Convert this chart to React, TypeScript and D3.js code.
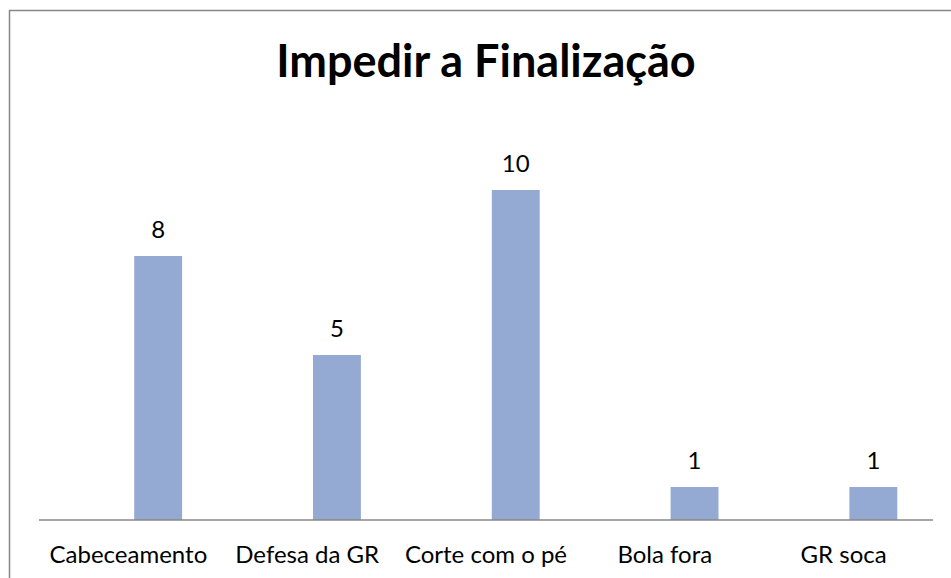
import React from 'react';
import * as d3 from 'd3';

const categories = ['Cabeceamento', 'Defesa da GR', 'Corte com o pé', 'Bola fora', 'GR soca'];
const values = [8, 5, 10, 1, 1];
const title = 'Impedir a Finalização';

const width = 951;
const height = 578;
const font = 'Lato, "Open Sans", sans-serif';

function App() {
  // categories span the whole axis line
  const x = d3.scaleBand<string>().domain(categories).range([39, 933]);
  // excel clustered slots: the bar sits in the second slot
  const slot = d3
    .scaleBand<string>()
    .domain(['empty', 'value'])
    .range([0, x.bandwidth()])
    .paddingInner(0.195)
    .paddingOuter(0.6);
  const y = d3.scaleLinear().domain([0, 12]).range([520, 124]);

  return (
    <svg
      width={width}
      height={height}
      style={{ position: 'absolute', left: 0, top: 0, background: '#fff' }}
    >
      <rect x={9.5} y={10.5} width={width + 20} height={height + 20} fill="#fff" stroke="#878787" strokeWidth={1.5} />
      <text x={486} y={77} textAnchor="middle" fontFamily={font} fontWeight="bold" fontSize={45} fill="#000">
        {title}
      </text>
      {categories.map((c, i) => {
        const bx = (x(c) as number) + (slot('value') as number);
        return (
          <g key={c}>
            <rect x={bx} y={y(values[i])} width={slot.bandwidth()} height={y(0) - y(values[i])} fill="#95AAD3" />
            <text
              x={bx + slot.bandwidth() / 2}
              y={y(values[i]) - 18}
              textAnchor="middle"
              fontFamily={font}
              fontSize={24}
              fill="#000"
            >
              {values[i]}
            </text>
            <text
              x={(x(c) as number) + x.bandwidth() / 2}
              y={563}
              textAnchor="middle"
              fontFamily={font}
              fontSize={24}
              fill="#000"
            >
              {c}
            </text>
          </g>
        );
      })}
      <line x1={39} x2={933} y1={y(0)} y2={y(0)} stroke="#898989" strokeWidth={1.5} />
    </svg>
  );
}

export default App;
